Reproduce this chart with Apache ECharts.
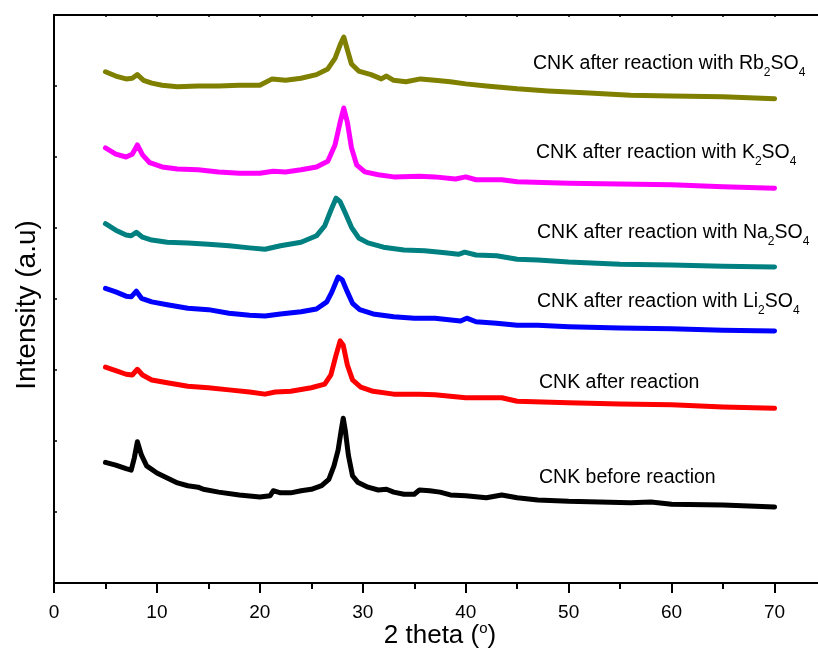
<!DOCTYPE html>
<html>
<head>
<meta charset="utf-8">
<title>XRD patterns of CNK</title>
<script src="https://cdn.jsdelivr.net/npm/echarts@6/dist/echarts.min.js"></script>
<style>
  html, body { margin: 0; padding: 0; background: #fff; }
  #chart { width: 818px; height: 650px; }
</style>
</head>
<body>
<div id="chart"></div>
<script>
// X-axis tick labels (2 theta, degrees)
const thetaTicks = [0, 10, 20, 30, 40, 50, 60, 70];

// Pattern labels, top to bottom
const seriesNames = [
  'CNK after reaction with Rb2SO4',
  'CNK after reaction with K2SO4',
  'CNK after reaction with Na2SO4',
  'CNK after reaction with Li2SO4',
  'CNK after reaction',
  'CNK before reaction'
];

// CNK before reaction
const beforeTheta = [5, 6, 7, 7.5, 7.8, 8.1, 8.5, 9, 10, 11, 12, 13, 14, 14.5, 16, 18, 20, 21, 21.3, 22, 23, 24, 25, 26, 26.7, 27.2, 27.6, 27.9, 28.1, 28.3, 28.6, 29, 29.5, 30.5, 31.5, 32.3, 33, 34, 35, 35.5, 36.5, 37.5, 38.5, 40, 42, 43.5, 45, 47, 50, 53, 56, 58, 60, 65, 70];
const beforeCounts = [170, 166, 161, 159, 176, 199, 180, 165, 155, 148, 141, 137, 135, 132, 128, 124, 121, 123, 130, 127, 127, 130, 132, 137, 146, 165, 187, 215, 232, 215, 180, 151, 142, 135, 131, 132, 128, 125, 125, 131, 130, 128, 124, 123, 120, 124, 120, 117, 115, 114, 113, 114, 111, 110, 107];

// CNK after reaction
const afterTheta = [5, 6, 7, 7.6, 8.1, 8.6, 9.5, 11, 13, 15, 17, 19, 20.5, 21.5, 23, 25, 26.3, 26.9, 27.4, 27.8, 28.1, 28.5, 29, 29.8, 31, 33, 35.5, 37, 40, 43.5, 45, 50, 55, 60, 65, 70];
const afterCounts = [304, 299, 294, 293, 301, 293, 286, 282, 277, 275, 272, 269, 266, 269, 270, 275, 280, 293, 321, 341, 335, 307, 286, 276, 270, 266, 266, 265, 261, 261, 256, 254, 252, 251, 248, 246];

// CNK after reaction with Li2SO4
const liTheta = [5, 6, 7, 7.5, 8, 8.5, 9.5, 11, 13, 15, 17, 19, 20.5, 22, 24, 25.5, 26.5, 27, 27.6, 28, 28.5, 29, 29.7, 31, 33, 35, 37, 39.5, 40.1, 41, 43, 45, 47, 50, 55, 60, 65, 70];
const liCounts = [415, 410, 404, 403, 411, 401, 396, 392, 387, 385, 380, 377, 376, 379, 382, 386, 396, 410, 431, 427, 410, 394, 385, 379, 375, 373, 373, 369, 373, 368, 366, 363, 363, 361, 359, 358, 356, 355];

// CNK after reaction with Na2SO4
const naTheta = [5, 6, 7, 7.5, 8, 8.6, 9.5, 11, 13, 15, 17, 19, 20.5, 22, 24, 25.5, 26.3, 26.9, 27.4, 27.8, 28.3, 28.9, 29.6, 30.5, 32, 34, 36, 38, 39.3, 39.9, 41, 43, 45, 47, 50, 55, 60, 65, 70];
const naCounts = [506, 497, 490, 489, 494, 487, 483, 480, 479, 477, 475, 472, 470, 475, 480, 489, 503, 525, 542, 537, 521, 501, 486, 479, 473, 469, 468, 465, 463, 466, 462, 461, 456, 455, 452, 449, 448, 446, 445];

// CNK after reaction with K2SO4
const kTheta = [5, 6, 7, 7.6, 8.1, 8.6, 9.3, 10.5, 12, 14, 16, 18, 20, 21.3, 22.5, 24, 25.5, 26.6, 27.3, 27.8, 28.15, 28.5, 28.9, 29.4, 30.2, 31.5, 33, 35.5, 37, 39, 40, 41, 43.5, 45, 50, 55, 60, 65, 70];
const kCounts = [613, 604, 600, 604, 617, 603, 592, 586, 583, 582, 579, 577, 577, 580, 579, 582, 586, 594, 617, 649, 669, 649, 613, 589, 579, 575, 572, 573, 572, 569, 572, 568, 568, 565, 563, 562, 561, 558, 556];

// CNK after reaction with Rb2SO4
const rbTheta = [5, 6, 7, 7.6, 8.1, 8.7, 9.5, 10.5, 12, 14, 16, 18, 20, 21.2, 22.5, 24, 25.5, 26.6, 27.3, 27.8, 28.15, 28.5, 28.9, 29.6, 30.8, 31.8, 32.3, 33, 34.2, 35.6, 37, 38.5, 40, 42, 45, 48, 52, 56, 60, 65, 70];
const rbCounts = [720, 714, 710, 711, 716, 708, 704, 701, 699, 700, 700, 701, 701, 710, 708, 711, 716, 724, 739, 758, 769, 751, 731, 721, 716, 710, 714, 708, 706, 710, 708, 706, 703, 700, 696, 693, 690, 687, 686, 685, 682];

const seriesColors = ['#808000', '#ff00ff', '#008080', '#0000ff', '#ff0000', '#000000'];
const seriesTheta = [rbTheta, kTheta, naTheta, liTheta, afterTheta, beforeTheta];
const seriesCounts = [rbCounts, kCounts, naCounts, liCounts, afterCounts, beforeCounts];

// Label text with chemical subscripts as rich text
const richLabels = [
  '{m|CNK after reaction with Rb}{s|2}{m|SO}{s|4}',
  '{m|CNK after reaction with K}{s|2}{m|SO}{s|4}',
  '{m|CNK after reaction with Na}{s|2}{m|SO}{s|4}',
  '{m|CNK after reaction with Li}{s|2}{m|SO}{s|4}',
  '{m|CNK after reaction}',
  '{m|CNK before reaction}'
];
const labelLeft = [533, 536, 537, 537, 539, 539];
const labelTop = [54, 143, 223, 292, 373, 468];

const FONT = '"Liberation Sans", Arial, Helvetica, sans-serif';
const labelRich = {
  m: { fontSize: 19.5, lineHeight: 30, fontFamily: FONT, color: '#000' },
  s: { fontSize: 12, lineHeight: 6, verticalAlign: 'bottom', fontFamily: FONT, color: '#000' }
};

const chart = echarts.init(document.getElementById('chart'), null, { renderer: 'canvas' });

const series = seriesTheta.map((theta, i) => ({
  name: seriesNames[i],
  type: 'line',
  xAxisIndex: 0,
  yAxisIndex: 0,
  data: theta.map((t, j) => [t, seriesCounts[i][j]]),
  showSymbol: false,
  symbol: 'none',
  smooth: false,
  lineStyle: { color: seriesColors[i], width: 5, join: 'round', cap: 'round' },
  z: 2 + (5 - i)
}));

const graphics = richLabels.map((txt, i) => ({
  type: 'text',
  left: labelLeft[i],
  top: labelTop[i],
  z: 100,
  style: { text: txt, rich: labelRich, font: '19.5px ' + FONT }
}));

const option = {
  animation: false,
  backgroundColor: '#ffffff',
  grid: { left: 54, top: 15, right: -8, bottom: 67, containLabel: false, outerBoundsMode: 'none' },
  xAxis: [
    {
      type: 'value', min: 0, max: 75, interval: 10, position: 'bottom',
      name: '{a|2 theta (}{p|o}{a|)}',
      nameLocation: 'middle', nameGap: 38, nameMoveOverlap: false,
      nameTextStyle: {
        rich: {
          a: { fontSize: 26, lineHeight: 30, fontFamily: FONT, color: '#000' },
          p: { fontSize: 15, lineHeight: 16, verticalAlign: 'top', fontFamily: FONT, color: '#000' }
        }
      },
      axisLine: { show: true, onZero: false, lineStyle: { color: '#000', width: 2 } },
      axisTick: { show: true, inside: false, length: 10, lineStyle: { color: '#000', width: 2 } },
      axisLabel: {
        show: true, margin: 20, fontSize: 19, fontFamily: FONT, color: '#000',
        showMaxLabel: false,
        formatter: v => (thetaTicks.indexOf(v) >= 0 ? String(v) : '')
      },
      splitLine: { show: false }
    },
    {
      type: 'value', min: 0, max: 75, interval: 5, position: 'bottom',
      axisLine: { show: false },
      axisTick: { show: true, inside: false, length: 6, lineStyle: { color: '#000', width: 2 } },
      axisLabel: { show: false },
      splitLine: { show: false }
    },
    {
      type: 'value', min: 0, max: 75, interval: 5, position: 'top',
      axisLine: { show: true, onZero: false, lineStyle: { color: '#000', width: 2 } },
      axisTick: { show: true, inside: true, length: 2, lineStyle: { color: '#000', width: 1.5 } },
      axisLabel: { show: false },
      splitLine: { show: false }
    }
  ],
  yAxis: [
    {
      type: 'value', min: 0, max: 800, interval: 100, position: 'left',
      name: 'Intensity (a.u)', nameLocation: 'middle', nameGap: 12, nameMoveOverlap: false,
      nameTextStyle: { fontSize: 28, lineHeight: 30, fontFamily: FONT, color: '#000', padding: [0, 12, 0, 0] },
      axisLine: { show: true, onZero: false, lineStyle: { color: '#000', width: 2 } },
      axisTick: { show: true, inside: true, length: 3, lineStyle: { color: '#000', width: 1.5 } },
      axisLabel: { show: false },
      splitLine: { show: false }
    }
  ],
  series: series,
  graphic: graphics
};

chart.setOption(option);
</script>
</body>
</html>
